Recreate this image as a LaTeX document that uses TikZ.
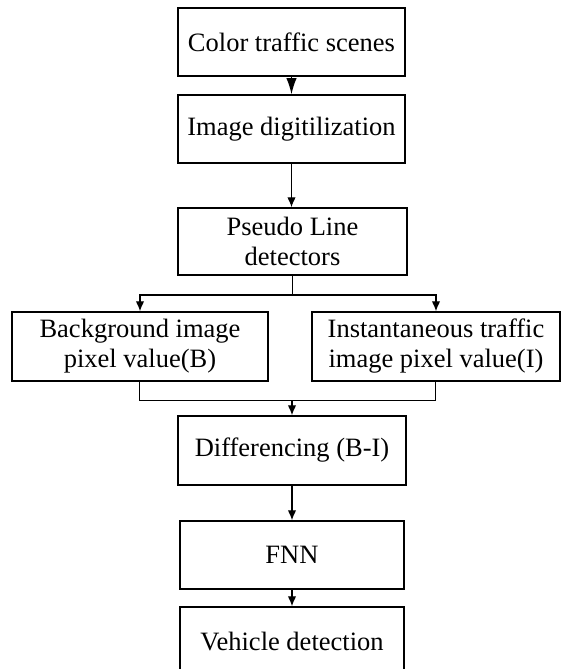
\documentclass[tikz,border=0pt]{standalone}
\usepackage{fontspec}
\setmainfont{Liberation Serif}
\usetikzlibrary{arrows.meta}
\begin{document}
\begin{tikzpicture}[
   x=0.4pt,y=-0.4pt,
   font=\fontsize{10.6}{12}\selectfont,
   stage/.style={draw,line width=0.6pt,align=center,inner sep=0pt,minimum width=90.8pt,minimum height=27.2pt},
   wide/.style={stage,minimum height=27.6pt},
   to/.style={-{Latex[length=4pt,width=3.4pt]},line width=0.45pt},
   bigto/.style={-{Latex[length=6.5pt,width=4.2pt]},line width=0.5pt}]
\clip (0,0) rectangle (561,669);
\node[stage] (scenes) at (291.5,42) {Color traffic scenes};
\node[stage] (digit) at (291.5,129) {Image digitilization};
\node[stage,minimum width=91.6pt,minimum height=26.8pt] (pseudo) at (292.5,241.5) {Pseudo Line\\detectors};
\node[wide,minimum width=102.4pt] (backgr) at (140,346.5) {Background image\\pixel value(B)};
\node[wide,minimum width=99.2pt] (instant) at (436,346.5) {Instantaneous traffic\\image pixel value(I)};
\node[stage,minimum width=91.2pt,minimum height=27.6pt] (differ) at (292,450.5) {Differencing (B-I)};
\node[stage,minimum width=89.6pt] (fnn) at (292,555) {FNN};
\node[stage,minimum width=89.6pt] (vehicle) at (292,641) {Vehicle detection};
\coordinate (split) at (292.5,295);
\coordinate (join) at (292,400);
\draw[bigto] (scenes) -- (digit);
\draw[to] (digit) -- (pseudo.north -| digit);
\draw (pseudo.south) -- (split);
\draw[to] (split) -| (backgr.north);
\draw[to] (split) -| (instant.north);
\draw (backgr.south) |- (join);
\draw (instant.south) |- (join);
\draw[to] (join) -- (differ.north);
\draw[to] (differ) -- (fnn);
\draw[to] (fnn) -- (vehicle);
\end{tikzpicture}
\end{document}
